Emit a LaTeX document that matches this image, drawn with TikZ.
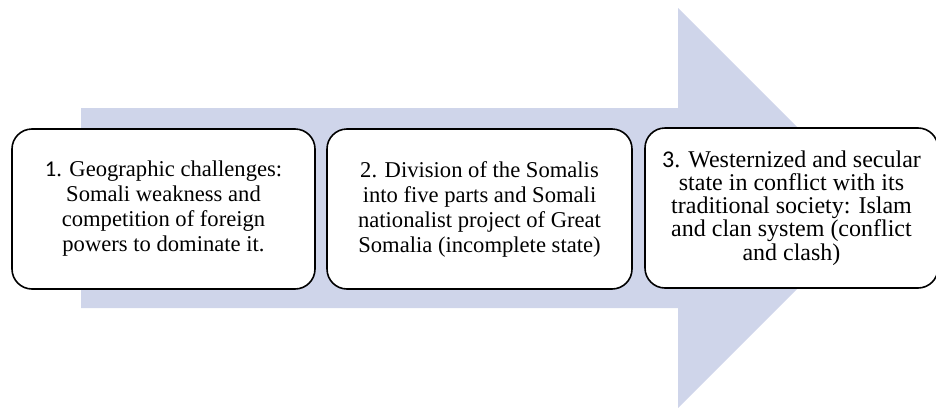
\documentclass[tikz,border=0pt]{standalone}
\usepackage{fontspec}
\setmainfont{Liberation Serif}
\newfontfamily\numfont{Carlito}
\definecolor{arrowfill}{RGB}{207,213,234}
\begin{document}
\begin{tikzpicture}[x=1pt,y=-1pt,
  stagebox/.style={draw=black, line width=1.6pt, fill=white, rounded corners=20pt,
    align=center, inner sep=0pt, minimum height=160pt,
    font=\fontsize{22.6}{25}\selectfont}]
\clip (0,0) rectangle (936,407);
\useasboundingbox (0,0) rectangle (936,407);
\fill[arrowfill] (81,108) -- (678,108) -- (678,8) -- (878,208) -- (678,408) -- (678,308) -- (81,308) -- cycle;
\node[stagebox, minimum width=303pt] (b1) at (163.5,209)
  {{\numfont 1}. Geographic challenges:\\Somali weakness and\\competition of foreign\\powers to dominate it.};
\node[stagebox, minimum width=305pt] (b2) at (479.5,209)
  {2. Division of the Somalis\\into five parts and Somali\\nationalist project of Great\\Somalia (incomplete state)};
\node[stagebox, minimum width=293pt, font=\fontsize{24}{23.2}\selectfont] (b3) at (791.5,208)
  {{\numfont 3}. Westernized and secular\\state in conflict with its\\traditional society: Islam\\and clan system (conflict\\and clash)};
\end{tikzpicture}
\end{document}
